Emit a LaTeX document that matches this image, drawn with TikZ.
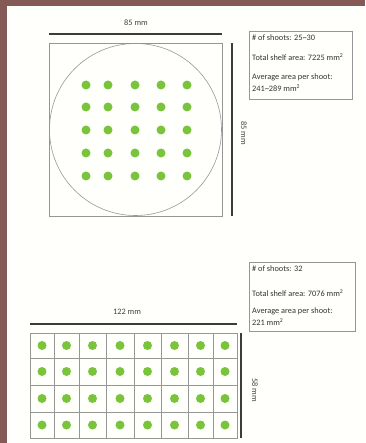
\documentclass[tikz,border=0pt]{standalone}
\usepackage{fontspec}
\setmainfont{Carlito}
\definecolor{frame}{RGB}{133,90,86}
\definecolor{dotgreen}{RGB}{122,196,60}
\definecolor{linegray}{RGB}{150,150,150}
\definecolor{dimgray}{RGB}{60,60,60}
\begin{document}
\begin{tikzpicture}[x=1pt,y=-1pt,
  dimline/.style={draw=dimgray,line width=1.8pt},
  thin/.style={draw=linegray,line width=0.6pt},
  shoot/.style={circle,fill=dotgreen,inner sep=0pt,minimum size=9pt},
  lbl/.style={font=\fontsize{8.3}{9}\selectfont,text=black!75,inner sep=0pt},
  infobox/.style={draw=linegray,line width=0.7pt,inner sep=0pt},
  info/.style={font=\fontsize{8.3}{9}\selectfont,text=black!80,inner sep=0pt,anchor=west}]
\useasboundingbox (0,0) rectangle (365,443);
\fill[frame] (0,0) rectangle (365,443);
\fill[white!99!yellow] (7,6) rectangle (365,443);
% top: square with circle
\node[thin,rectangle,minimum width=173pt,minimum height=173pt,inner sep=0pt] (sq) at (135.5,129.5) {};
\node[thin,circle,minimum size=172pt,inner sep=0pt] (dish) at (135.5,129.5) {};
\foreach \i/\x in {1/86,2/108,3/135,4/161,5/187}{
  \foreach \j/\y in {1/85,2/107,3/130,4/153,5/176}{
    \node[shoot] (d\i\j) at (\x,\y) {};
  }
}
\coordinate (th1) at (49,34);
\coordinate (th2) at (222,34);
\draw[dimline] (th1) -- (th2);
\node[lbl] (tw) at (136,23) {85 mm};
\coordinate (tv1) at (232,43);
\coordinate (tv2) at (232,216);
\draw[dimline] (tv1) -- (tv2);
\node[lbl,rotate=-90] (th) at (244,133) {85 mm};
% top info box
\node[infobox,rectangle,minimum width=103pt,minimum height=68pt] (box1) at (300.5,65) {};
\node[info] (b1a) at (252,38) {\# of shoots: 25\textasciitilde 30};
\node[info] (b1b) at (252,57.5) {Total shelf area: 7225 mm\textsuperscript{2}};
\node[info] (b1c) at (252,77) {Average area per shoot:};
\node[info] (b1d) at (252,88.5) {241\textasciitilde 289 mm\textsuperscript{2}};
% bottom info box
\node[infobox,rectangle,minimum width=106pt,minimum height=69pt] (box2) at (302,296.5) {};
\node[info] (b2a) at (252,269) {\# of shoots: 32};
\node[info] (b2b) at (252,293) {Total shelf area: 7076 mm\textsuperscript{2}};
\node[info] (b2c) at (252,311) {Average area per shoot:};
\node[info] (b2d) at (252,322.5) {221 mm\textsuperscript{2}};
% bottom grid
\node[thin,rectangle,minimum width=207pt,minimum height=105pt,inner sep=0pt] (tray) at (133.5,385.5) {};
\foreach \x in {54,79,106,134,161,188,213}{
  \draw[thin] (\x,333) -- (\x,438);
}
\foreach \y in {358,385,412}{
  \draw[thin] (30,\y) -- (237,\y);
}
\foreach \i/\x in {1/42,2/66.5,3/92.5,4/120,5/147.5,6/174.5,7/200.5,8/225}{
  \foreach \j/\y in {1/345.5,2/371.5,3/398.5,4/425}{
    \node[shoot] (g\i\j) at (\x,\y) {};
  }
}
\coordinate (bh1) at (30,324);
\coordinate (bh2) at (237,324);
\draw[dimline] (bh1) -- (bh2);
\node[lbl] (bw) at (127,312) {122 mm};
\coordinate (bv1) at (241,333);
\coordinate (bv2) at (241,438);
\draw[dimline] (bv1) -- (bv2);
\node[lbl,rotate=-90] (bhl) at (255,390) {58 mm};
\end{tikzpicture}
\end{document}
